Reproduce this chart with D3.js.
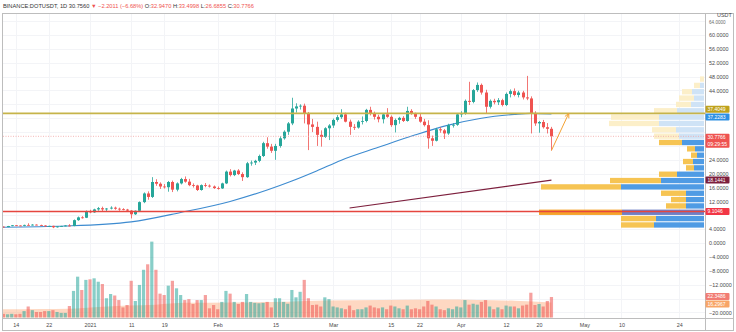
<!DOCTYPE html>
<html><head><meta charset="utf-8">
<script src="https://cdn.jsdelivr.net/npm/d3@7"></script>
<style>
html,body{margin:0;padding:0;background:#fff;}
svg{display:block;font-family:"Liberation Sans",Arial,sans-serif;}
</style></head><body>
<svg id="c" width="736" height="332"></svg>
<script>
// ---------------- DATA ----------------
const firstDay = "2020-12-10";   // daily candles, consecutive days
const opens = [4.95,4.72,4.62,4.90,5.12,5.05,4.98,5.22,5.15,5.30,5.20,5.05,4.82,4.95,4.55,4.78,4.88,5.05,4.90,6.60,7.40,7.30,
 9.15,8.85,9.70,10.05,9.70,9.95,10.20,9.90,9.75,9.65,9.35,8.30,9.30,11.80,14.30,13.30,17.60,17.10,16.30,16.10,17.60,15.40,17.20,18.45,17.70,16.70,16.60,15.30,16.70,16.55,16.30,
 15.85,15.75,17.20,20.60,19.60,20.90,19.90,19.00,23.00,23.20,23.70,25.10,28.80,27.80,26.60,28.00,30.20,32.10,34.50,38.80,39.40,39.60,37.40,34.20,33.50,31.20,30.60,33.10,
 33.90,35.50,36.30,37.10,35.00,33.50,33.30,35.00,35.20,38.40,37.40,36.40,35.70,37.10,36.40,34.00,35.50,36.10,35.20,38.10,37.20,36.40,35.00,34.00,30.20,29.50,32.80,32.50,31.60,34.00,34.10,
 37.10,37.40,41.00,40.70,44.10,45.60,43.40,39.30,41.00,40.60,41.20,39.80,43.00,43.80,42.70,43.40,42.00,41.70,37.40,34.50,34.90,33.40,32.947];
const highs = [5.05,4.80,4.95,5.20,5.20,5.12,5.30,5.70,5.45,5.40,5.30,5.15,5.00,5.00,4.85,4.95,5.15,5.45,6.80,7.65,7.75,9.40,
 9.60,9.90,10.40,10.50,10.10,10.60,10.50,10.20,10.05,9.85,9.50,9.40,12.00,14.60,14.90,19.00,18.40,17.50,17.00,17.90,18.00,17.50,18.80,19.20,18.50,17.20,16.80,16.90,17.30,16.90,16.60,
 16.30,17.40,20.90,21.30,21.10,21.30,20.40,23.40,23.80,24.00,25.50,29.20,30.50,28.60,28.60,30.80,32.50,34.90,41.90,40.30,40.00,40.20,37.80,35.80,35.00,32.50,33.40,34.30,
 35.90,36.90,38.60,37.60,35.60,34.30,35.40,36.50,38.70,39.30,37.90,37.00,37.40,38.90,36.80,35.90,36.40,36.60,39.30,38.60,37.60,37.20,35.80,35.40,31.00,33.20,33.40,32.90,34.40,34.60,37.50,
 38.00,41.40,46.50,44.40,46.30,46.00,44.20,41.40,41.60,41.80,41.60,43.40,44.30,44.60,43.90,43.90,48.20,42.30,38.00,35.20,35.50,34.60,33.4998];
const lows = [4.60,4.48,4.58,4.85,4.95,4.88,4.85,5.05,5.05,5.10,4.95,4.70,4.65,4.30,4.45,4.65,4.80,4.80,4.85,6.40,7.05,7.20,
 8.60,8.70,9.30,9.00,9.20,9.70,9.60,9.30,9.45,9.00,7.10,8.10,9.10,11.50,12.50,13.00,16.50,15.60,15.70,14.80,14.70,14.90,16.90,17.40,16.40,16.00,15.00,15.10,16.10,16.00,15.60,
 15.40,15.60,17.00,19.20,19.30,19.60,17.90,18.80,22.30,22.50,23.30,24.80,27.20,26.00,24.00,27.50,29.80,31.20,34.00,37.60,38.50,34.50,26.80,32.00,28.00,27.80,30.30,29.70,
 33.20,35.00,35.80,34.80,31.20,32.60,33.00,34.20,34.80,36.80,35.60,34.80,34.50,36.10,33.50,31.90,34.40,34.90,35.00,37.00,35.80,34.70,33.60,27.20,28.00,29.30,31.80,30.00,31.20,33.30,33.80,
 36.30,37.00,39.80,40.30,43.60,42.80,37.40,38.80,40.00,39.80,39.40,39.50,42.00,42.30,42.00,41.40,41.20,31.60,33.80,31.80,33.00,31.60,26.6855];
const closes = [4.72,4.62,4.90,5.12,5.05,4.98,5.22,5.15,5.30,5.20,5.05,4.82,4.95,4.55,4.78,4.88,5.05,4.90,6.60,7.40,7.30,9.15,
 8.85,9.70,10.05,9.70,9.95,10.20,9.90,9.75,9.65,9.35,8.30,9.30,11.80,14.30,13.30,17.60,17.10,16.30,16.10,17.60,15.40,17.20,18.45,17.70,16.70,16.60,15.30,16.70,16.55,16.30,15.85,
 15.75,17.20,20.60,19.60,20.90,19.90,19.00,23.00,23.20,23.70,25.10,28.80,27.80,26.60,28.00,30.20,32.10,34.50,38.80,39.40,39.60,37.40,34.20,33.50,31.20,30.60,33.10,33.90,
 35.50,36.30,37.10,35.00,33.50,33.30,35.00,35.20,38.40,37.40,36.40,35.70,37.10,36.40,34.00,35.50,36.10,35.20,38.10,37.20,36.40,35.00,34.00,30.20,29.50,32.80,32.50,31.60,34.00,34.10,37.10,
 37.40,41.00,40.70,44.10,45.60,43.40,39.30,41.00,40.60,41.20,39.80,43.00,43.80,42.70,43.40,42.00,41.70,37.40,34.50,34.90,33.40,32.947,30.7766];
const volumes = [4,4,3.5,4,3.5,4,7,12,8,6,6,7,7,8,6,5,5,12.5,29,44.5,30,41,
 41.6,42.7,39,36.5,21,25.6,24,19,11,13.6,40,18,35.5,52,58,82.7,52,26,24.5,34.7,40,31.8,24.5,19,20,14.7,19,19,24.5,10,13.6,
 9,17,29,26,17,14.7,17,25.6,17,16,15.5,16,17,11,21,21,17,15,30,22,28,41,21,13.6,14,12,22,20,
 12,11,10,9,13,8,9,9,11,13,11,10,11,9,13,12,10,9,13,9,10,9,12,18,14,12,9,8,10,9,12,
 11,19,14,15,14,17,19,12,9,11,9,13,12,12,10,13,14,27,13.6,14.7,12,18,22.3486];

// moving averages
const maDates  = ["2020-12-10","2020-12-26","2021-01-11","2021-01-23","2021-02-04","2021-02-13","2021-02-19","2021-02-25","2021-03-03","2021-03-12","2021-03-21","2021-03-29","2021-04-06","2021-04-14","2021-04-18","2021-04-23"];
const maValues = [4.55,4.9,6.1,8.8,12.0,15.3,17.9,20.8,23.9,27.6,31.2,34.0,36.0,37.1,37.4,37.2283];
const volMaDates  = ["2020-12-10","2020-12-20","2020-12-27","2021-01-03","2021-01-10","2021-01-17","2021-01-24","2021-02-04","2021-02-18","2021-02-27","2021-03-13","2021-03-26","2021-04-05","2021-04-14","2021-04-23"];
const volMaValues = [8.9,9.2,9.6,11.5,13.0,14.0,16.0,16.3,17.3,18.4,19.0,19.6,19.2,18.2,16.2967];

// visible-range volume profile, 24 rows bottom -> top (up / down volume)
const profileUp   = [50,48,82,18,18,18,83,43,27,10,11,7,9,22,25,28,45,45,27,13,10,12,4,0];
const profileDown = [33,35,83,20,15,25,80,51,18,8,10,6,8,23,25,24,50,48,23,15,15,10,6,4];
const valueAreaRows = 14;   // rows 0..13 form the value area
const pocRow = 2;

// drawings
const levelOlive = 37.4049, levelRed = 9.1046;
const trendStart = ["2021-03-05", 10.1], trendEnd = ["2021-04-23", 18.1441];
const arrowStart = ["2021-04-23", 26.6855], arrowEnd = ["2021-04-27T05:00", 37.4049];

// axis ticks
const timeTickDates  = ["2020-12-14","2020-12-22","2021-01-01","2021-01-11","2021-01-19","2021-02-01","2021-02-15","2021-03-01","2021-03-15","2021-03-22","2021-04-01","2021-04-12","2021-04-20","2021-05-01","2021-05-10","2021-05-24"];
const timeTickLabels = ["14","22","2021","11","19","Feb","15","Mar","15","22","Apr","12","20","May","10","24"];
const priceTicks = d3.range(-20, 65, 4);

// ---------------- LAYOUT ----------------
const paneL = 3, paneR = 705, paneT = 13, paneB = 318;
const FS = 5.4;
const parse = s => new Date(s.length > 10 ? s : s + "T00:00");
const x = d3.scaleTime().domain([parse("2021-01-01"), parse("2021-05-01")]).range([90, 584.4]);
const y = d3.scaleLinear().domain([-20, 64]).range([312.4, 21.1]);
const yv = d3.scaleLinear().domain([0, 80]).range([317.5, 317.5 - 73.4]);
const dates = opens.map((_, i) => d3.timeDay.offset(parse(firstDay), i));
const bodyW = 3;
const up = "#26a69a", down = "#ef5350";

const svg = d3.select("#c");
const defs = svg.append("defs");
defs.append("clipPath").attr("id", "pane").append("rect")
  .attr("x", paneL).attr("y", paneT).attr("width", paneR - paneL).attr("height", paneB - paneT);

// grid
const grid = svg.append("g").attr("clip-path", "url(#pane)");
grid.selectAll("line.h").data(priceTicks).join("line")
  .attr("x1", paneL).attr("x2", paneR).attr("y1", d => Math.round(y(d)) + 0.5).attr("y2", d => Math.round(y(d)) + 0.5)
  .attr("stroke", "#f3f4f7");
grid.selectAll("line.v").data(timeTickDates).join("line")
  .attr("y1", paneT).attr("y2", paneB).attr("x1", d => Math.round(x(parse(d))) + 0.5).attr("x2", d => Math.round(x(parse(d))) + 0.5)
  .attr("stroke", "#f3f4f7");

const plot = svg.append("g").attr("clip-path", "url(#pane)");

// volume MA area
const vma = volMaDates.map((d, i) => [parse(d), volMaValues[i]]);
plot.append("path").datum(vma)
  .attr("d", d3.area().x(d => x(d[0])).y0(yv(0)).y1(d => yv(d[1])).curve(d3.curveMonotoneX))
  .attr("fill", "#fb8c4c").attr("fill-opacity", 0.34);

// volume bars
plot.selectAll("rect.vol").data(volumes).join("rect")
  .attr("x", (d, i) => x(dates[i]) - 1.6).attr("width", 3.2)
  .attr("y", d => yv(d)).attr("height", d => yv(0) - yv(d))
  .attr("fill", (d, i) => closes[i] >= opens[i] ? up : down).attr("fill-opacity", 0.55);

// volume profile
const pLo = d3.min(lows), pHi = d3.max(highs), nRows = profileUp.length, rowStep = (pHi - pLo) / nRows;
const pw = d3.scaleLinear().domain([0, d3.max(profileUp.map((u, i) => u + profileDown[i]))]).range([0, 165]);
const prof = plot.append("g");
profileUp.forEach((u, i) => {
  const yTop = y(pLo + (i + 1) * rowStep) + 0.5, yBot = y(pLo + i * rowStep) - 0.5;
  const inVA = i < valueAreaRows, isPoc = i === pocRow;
  const right = paneR - 1;
  const upC = isPoc ? "#6f7fc6" : (inVA ? "#4f9be4" : "#cfe3f6");
  const dnC = isPoc ? "#f6a32a" : (inVA ? "#f6c453" : "#fcefc9");
  prof.append("rect").attr("x", right - pw(u)).attr("y", yTop).attr("width", pw(u)).attr("height", yBot - yTop).attr("fill", upC);
  prof.append("rect").attr("x", right - pw(u) - pw(profileDown[i])).attr("y", yTop).attr("width", pw(profileDown[i])).attr("height", yBot - yTop).attr("fill", dnC);
});

// price MA
const ma = maDates.map((d, i) => [parse(d), maValues[i]]);
plot.append("path").datum(ma)
  .attr("d", d3.line().x(d => x(d[0])).y(d => y(d[1])).curve(d3.curveMonotoneX))
  .attr("fill", "none").attr("stroke", "#3d8bd0").attr("stroke-width", 1.1);

// candles
const cg = plot.append("g");
cg.selectAll("line.w").data(opens).join("line")
  .attr("x1", (d, i) => Math.round(x(dates[i])) + 0.5).attr("x2", (d, i) => Math.round(x(dates[i])) + 0.5)
  .attr("y1", (d, i) => y(highs[i])).attr("y2", (d, i) => y(lows[i]))
  .attr("stroke", (d, i) => closes[i] >= opens[i] ? up : down).attr("stroke-width", 0.8);
cg.selectAll("rect.b").data(opens).join("rect")
  .attr("x", (d, i) => Math.round(x(dates[i])) + 0.5 - bodyW / 2).attr("width", bodyW)
  .attr("y", (d, i) => y(Math.max(opens[i], closes[i])))
  .attr("height", (d, i) => Math.max(0.8, Math.abs(y(opens[i]) - y(closes[i]))))
  .attr("fill", (d, i) => closes[i] >= opens[i] ? up : down);

// horizontal drawings
const lastClose = closes[closes.length - 1];
plot.append("line").attr("x1", paneL).attr("x2", paneR).attr("y1", y(lastClose)).attr("y2", y(lastClose))
  .attr("stroke", "#f2a5a5").attr("stroke-width", 0.8).attr("stroke-dasharray", "1,1.5");
plot.append("line").attr("x1", paneL).attr("x2", paneR).attr("y1", y(levelOlive)).attr("y2", y(levelOlive))
  .attr("stroke", "#c6b44a").attr("stroke-width", 1.6);
plot.append("line").attr("x1", paneL).attr("x2", paneR).attr("y1", y(levelRed)).attr("y2", y(levelRed))
  .attr("stroke", "#e5463f").attr("stroke-width", 1.6);
plot.append("line").attr("x1", x(parse(trendStart[0]))).attr("y1", y(trendStart[1]))
  .attr("x2", x(parse(trendEnd[0]))).attr("y2", y(trendEnd[1]))
  .attr("stroke", "#7d1f3d").attr("stroke-width", 1.2);

// arrow
const ax1 = x(parse(arrowStart[0])), ay1 = y(arrowStart[1]), ax2 = x(parse(arrowEnd[0])), ay2 = y(arrowEnd[1]);
plot.append("line").attr("x1", ax1).attr("y1", ay1).attr("x2", ax2).attr("y2", ay2).attr("stroke", "#f4a233").attr("stroke-width", 1);
const ang = Math.atan2(ay2 - ay1, ax2 - ax1), hl = 5;
[ang + Math.PI - 0.45, ang + Math.PI + 0.45].forEach(a => {
  plot.append("line").attr("x1", ax2).attr("y1", ay2).attr("x2", ax2 + hl * Math.cos(a)).attr("y2", ay2 + hl * Math.sin(a))
    .attr("stroke", "#f4a233").attr("stroke-width", 1);
});

// frame & separators
svg.append("rect").attr("x", 2.5).attr("y", 13.5).attr("width", 731).attr("height", 317).attr("fill", "none").attr("stroke", "#bdbdbd");
svg.append("line").attr("x1", paneR + 0.5).attr("x2", paneR + 0.5).attr("y1", 13.5).attr("y2", 330.5).attr("stroke", "#bdbdbd");
svg.append("line").attr("x1", 2.5).attr("x2", 733.5).attr("y1", paneB + 0.5).attr("y2", paneB + 0.5).attr("stroke", "#bdbdbd");

// price labels on the axis (boxes)
const boxes = [
  {v: levelOlive, t: ["37.4049"], c: "#bfa21c", dy: -4, s: y},
  {v: maValues[maValues.length - 1], t: ["37.2283"], c: "#2e90e2", dy: 3, s: y},
  {v: lastClose, t: ["30.7766", "09:29:55"], c: "#ef5350", dy: 1, s: y},
  {v: trendEnd[1], t: ["18.1441"], c: "#7d1f3d", dy: 0, s: y},
  {v: levelRed, t: ["9.1046"], c: "#f23645", dy: 0, s: y},
  {v: volumes[volumes.length - 1], t: ["22.3486"], c: "#f27c73", dy: -0.5, s: yv},
  {v: volMaValues[volMaValues.length - 1], t: ["16.2967"], c: "#f8a567", dy: 1.5, s: yv},
];
const boxSpans = boxes.map(b => { const cy = b.s(b.v) + b.dy; return [cy - 3.5, cy - 3.5 + 7 * b.t.length]; });

// price axis: ticks hidden where a value box covers them
const fmt = d => d3.format(".4f")(d).replace("-", "\u2212");
const visibleTicks = priceTicks.filter(t => {
  const ty = y(t);
  return ty > 22 && !boxSpans.some(([a, b]) => ty + 2.5 > a && ty - 2.5 < b);
});
const yAxis = svg.append("g").attr("transform", `translate(${paneR},0)`)
  .call(d3.axisRight(y).tickValues(visibleTicks).tickFormat(fmt).tickSize(0).tickPadding(4));
yAxis.select(".domain").remove();
yAxis.selectAll("text").attr("font-size", FS).attr("fill", "#4a4a4a").attr("font-family", "Liberation Sans, Arial, sans-serif");
svg.append("text").attr("x", 717).attr("y", 17).attr("font-size", FS).attr("fill", "#4a4a4a").text("USDT");
svg.append("text").attr("x", 709).attr("y", 24).attr("font-size", 4.6).attr("fill", "#6a6a6a").text(fmt(64));

// time axis
const xAxis = svg.append("g").attr("transform", `translate(0,${paneB})`)
  .call(d3.axisBottom(x).tickValues(timeTickDates.map(parse)).tickFormat((d, i) => timeTickLabels[i]).tickSize(0).tickPadding(5));
xAxis.select(".domain").remove();
xAxis.selectAll("text").attr("font-size", FS).attr("fill", "#4a4a4a").attr("font-family", "Liberation Sans, Arial, sans-serif");

boxes.forEach((b, j) => {
  const [top] = boxSpans[j];
  svg.append("rect").attr("x", paneR + 0.5).attr("y", top).attr("width", 24).attr("height", 7 * b.t.length).attr("rx", 1).attr("fill", b.c);
  b.t.forEach((s, k) => svg.append("text").attr("x", paneR + 2.5).attr("y", top + 5.4 + k * 6.6)
    .attr("font-size", 5).attr("fill", "#fff").text(s));
});

// header
const hdr = svg.append("text").attr("x", 3).attr("y", 8).attr("font-size", 5.7).attr("fill", "#333");
hdr.append("tspan").text("BINANCE:DOTUSDT, 1D  ");
hdr.append("tspan").text("30.7560 ");
hdr.append("tspan").attr("fill", "#ef5350").text("\u25BC \u22122.2011 (\u22126.68%)  ");
hdr.append("tspan").text("O:");
hdr.append("tspan").attr("fill", "#ef5350").text("32.9470 ");
hdr.append("tspan").text("H:");
hdr.append("tspan").attr("fill", "#ef5350").text("33.4998 ");
hdr.append("tspan").text("L:");
hdr.append("tspan").attr("fill", "#ef5350").text("26.6855 ");
hdr.append("tspan").text("C:");
hdr.append("tspan").attr("fill", "#ef5350").text("30.7766");
</script>
</body></html>
